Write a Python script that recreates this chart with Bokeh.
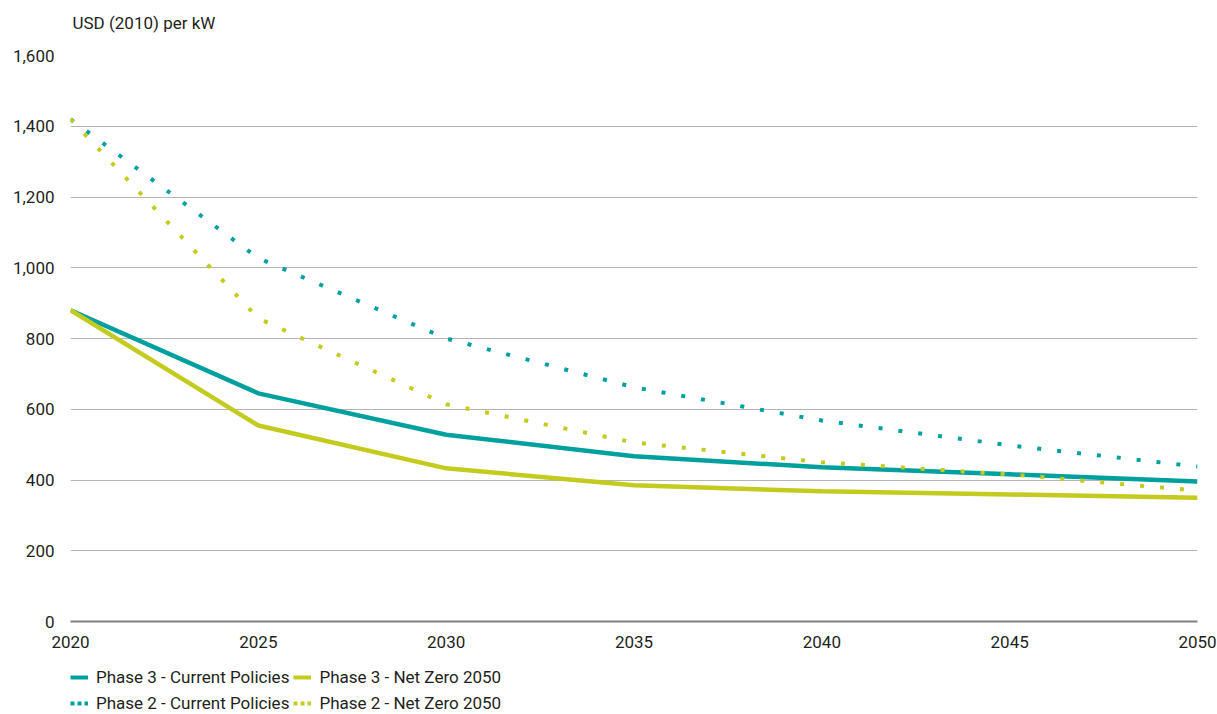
from bokeh.plotting import figure
from bokeh.layouts import column
from bokeh.models import Range1d, FixedTicker, NumeralTickFormatter, Legend, LegendItem, Label
from bokeh.embed import file_html
from bokeh.resources import INLINE

years = [2020, 2025, 2030, 2035, 2040, 2045, 2050]
p3_current = [880, 645, 528, 467, 436, 416, 396]
p3_netzero = [880, 554, 433, 385, 368, 359, 350]
p2_current = [1420, 1027, 800, 662, 568, 498, 438]
p2_netzero = [1420, 857, 614, 506, 450, 416, 370]
x_ticks = [2020, 2025, 2030, 2035, 2040, 2045, 2050]
y_ticks = [0, 200, 400, 600, 800, 1000, 1200, 1400, 1600]
series_names = ["Phase 3 - Current Policies", "Phase 2 - Current Policies",
                "Phase 3 - Net Zero 2050", "Phase 2 - Net Zero 2050"]
unit_title = "USD (2010) per kW"

TEAL = "#00A09E"
LIME = "#C3CB1E"
TXT = "#231f20"
FONT = "Roboto"


def bare(fig):
    fig.axis.visible = False
    fig.grid.visible = False
    fig.outline_line_color = None


# ---- unit title strip ----
t = figure(width=1217, height=40, output_backend="svg", toolbar_location=None,
           x_range=Range1d(0, 1), y_range=Range1d(0, 1),
           min_border_left=0, min_border_right=0, min_border_top=0,
           min_border_bottom=0)
bare(t)
t.add_layout(Label(x=2, y=18, x_units="screen", y_units="screen", text=unit_title,
                   text_font=FONT, text_font_size="17px", text_color=TXT,
                   text_baseline="middle", text_align="left"))

# ---- main chart ----
p = figure(width=1217, height=620, output_backend="svg", toolbar_location=None,
           x_range=Range1d(2020, 2050), y_range=Range1d(0, 1600),
           min_border_left=70, min_border_right=20, min_border_top=15,
           min_border_bottom=39)
p.outline_line_color = None

p.xaxis.ticker = FixedTicker(ticks=x_ticks)
p.yaxis.ticker = FixedTicker(ticks=y_ticks)
p.yaxis.formatter = NumeralTickFormatter(format="0,0")
for ax in (p.xaxis[0], p.yaxis[0]):
    ax.major_tick_line_color = None
    ax.minor_tick_line_color = None
    ax.major_label_text_font = FONT
    ax.major_label_text_font_size = "17px"
    ax.major_label_text_color = TXT
p.yaxis.axis_line_color = None
p.yaxis.major_label_standoff = 10
p.xaxis.axis_line_color = "#808080"
p.xaxis.axis_line_width = 2
p.xaxis.major_label_standoff = 8
p.xgrid.grid_line_color = None
p.ygrid.grid_line_color = "#b5b5b5"
p.ygrid.grid_line_width = 1

p.line(years, p3_current, line_color=TEAL, line_width=4.5)
p.line(years, p3_netzero, line_color=LIME, line_width=4.5)
p.line(years, p2_current, line_color=TEAL, line_width=4, line_dash="4 16")
p.line(years, p2_netzero, line_color=LIME, line_width=4, line_dash="4 16")

# ---- legend strip ----
q = figure(width=1217, height=54, output_backend="svg", toolbar_location=None,
           x_range=Range1d(2020, 2050), y_range=Range1d(0, 1600),
           min_border_left=0, min_border_right=0, min_border_top=0,
           min_border_bottom=0)
bare(q)

l1 = q.line(years, p3_current, line_color=TEAL, line_width=4, visible=False)
l2 = q.line(years, p2_current, line_color=TEAL, line_width=4, line_dash="4 3", visible=False)
l3 = q.line(years, p3_netzero, line_color=LIME, line_width=4, visible=False)
l4 = q.line(years, p2_netzero, line_color=LIME, line_width=4, line_dash="4 3", visible=False)

legend = Legend(items=[LegendItem(label=n, renderers=[r]) for n, r in
                       zip(series_names, [l1, l2, l3, l4])],
                ncols=2, orientation="vertical", location=(0, 0))
legend.label_text_font = FONT
legend.label_text_font_size = "17px"
legend.label_text_color = TXT
legend.glyph_width = 18
legend.glyph_height = 22
legend.label_height = 22
legend.label_width = 193
legend.label_standoff = 8
legend.spacing = 4
legend.padding = 0
legend.margin = 0
legend.border_line_color = None
legend.background_fill_alpha = 0
legend.inactive_fill_alpha = 0
legend.click_policy = "none"
q.add_layout(legend, "center")

layout = column(t, p, q, spacing=0)
open("out.html", "w").write(file_html(layout, INLINE))
